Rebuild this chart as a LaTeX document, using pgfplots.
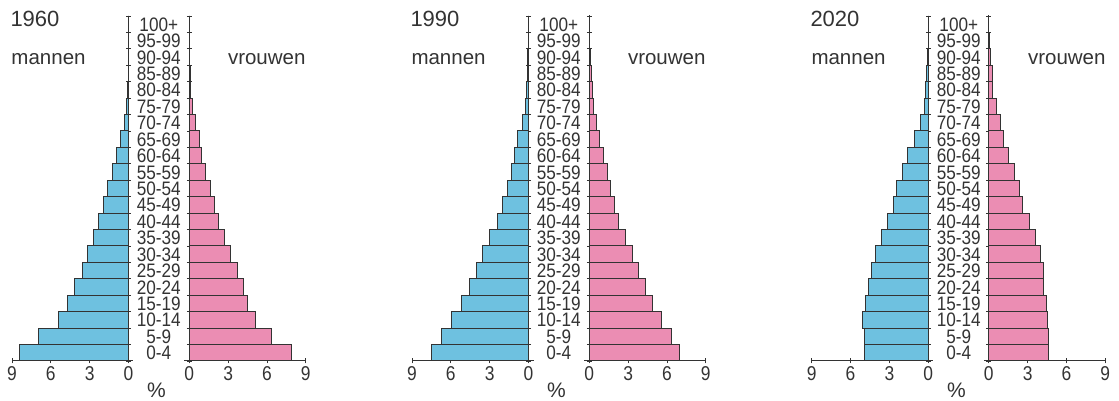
\documentclass[border=0pt]{standalone}
\usepackage{pgfplots}
\pgfplotsset{compat=1.18}
\usepackage{pgfplotstable}
\usepackage{fontspec}
\setmainfont{Liberation Sans}

\definecolor{manblue}{HTML}{6EC1E0}
\definecolor{vrouwpink}{HTML}{EB8DB3}
\definecolor{edge}{HTML}{333333}

% i = age group index (0 = 0-4, ..., 20 = 100+), m = mannen %, f = vrouwen %
\pgfplotstableread{
i m f
0 8.41 7.89
1 6.94 6.32
2 5.37 5.09
3 4.68 4.47
4 4.14 4.22
5 3.57 3.73
6 3.19 3.19
7 2.67 2.70
8 2.29 2.24
9 1.93 1.93
10 1.65 1.65
11 1.26 1.23
12 0.95 0.98
13 0.59 0.75
14 0.33 0.49
15 0.13 0.26
16 0.05 0.08
17 0.02 0.12
18 0.01 0.04
19 0.00 0.01
20 0.00 0.00
}\tabA

\pgfplotstableread{
i m f
0 7.46 6.99
1 6.76 6.32
2 5.96 5.60
3 5.19 4.86
4 4.58 4.37
5 4.04 3.80
6 3.52 3.32
7 3.03 2.78
8 2.39 2.26
9 2.00 1.93
10 1.62 1.67
11 1.34 1.39
12 1.10 1.08
13 0.82 0.82
14 0.49 0.54
15 0.23 0.33
16 0.13 0.23
17 0.10 0.18
18 0.05 0.08
19 0.01 0.02
20 0.00 0.01
}\tabB

\pgfplotstableread{
i m f
0 4.96 4.63
1 4.96 4.60
2 5.04 4.57
3 4.86 4.44
4 4.63 4.26
5 4.39 4.26
6 4.06 4.00
7 3.59 3.62
8 3.13 3.13
9 2.69 2.58
10 2.43 2.40
11 1.96 1.99
12 1.58 1.50
13 1.03 1.14
14 0.57 0.88
15 0.28 0.57
16 0.23 0.28
17 0.16 0.28
18 0.05 0.16
19 0.01 0.05
20 0.00 0.01
}\tabC

\pgfplotsset{
  pyr/.style={
    scale only axis, width=116.5pt, height=345pt,
    ymin=-0.5, ymax=20.5,
    ytick={-0.5,0.5,...,20.5}, yticklabels={,,},
    xbar, bar width=1, bar shift=0pt,
    tick align=outside, major tick length=5pt,
    tick style={edge, line width=0.9pt},
    axis line style={edge, line width=1pt},
    xticklabel style={font=\fontsize{20}{20}\selectfont, xscale=0.87, text=edge},
    /pgf/number format/assume math mode=true,
    clip=false,
  },
  mannen/.style={pyr, axis x line=bottom, axis y line=right,
    xmin=-9, xmax=0, xtick={-9,-6,-3,0}, xticklabels={9,6,3,0},
    x axis line style={-, shorten >=-5pt}, y axis line style={-}},
  vrouwen/.style={pyr, axis x line=bottom, axis y line=left,
    xmin=0, xmax=9, xtick={0,3,6,9}, xticklabels={0,3,6,9},
    x axis line style={-, shorten <=-5pt}, y axis line style={-}},
  mbar/.style={fill=manblue, draw=edge, line width=1pt},
  vbar/.style={fill=vrouwpink, draw=edge, line width=1pt},
}

\begin{document}
\begin{tikzpicture}[x=1pt,y=1pt]
% ---- 1960
\begin{axis}[mannen, at={(12pt,40pt)}, anchor=south west]
\addplot[mbar] table[x expr=-\thisrow{m}, y=i] {\tabA};
\end{axis}
\begin{axis}[vrouwen, at={(189.3pt,40pt)}, anchor=south west]
\addplot[vbar] table[x=f, y=i] {\tabA};
\end{axis}
% ---- 1990
\begin{axis}[mannen, at={(412pt,40pt)}, anchor=south west]
\addplot[mbar] table[x expr=-\thisrow{m}, y=i] {\tabB};
\end{axis}
\begin{axis}[vrouwen, at={(589.3pt,40pt)}, anchor=south west]
\addplot[vbar] table[x=f, y=i] {\tabB};
\end{axis}
% ---- 2020
\begin{axis}[mannen, at={(811.7pt,40pt)}, anchor=south west]
\addplot[mbar] table[x expr=-\thisrow{m}, y=i] {\tabC};
\end{axis}
\begin{axis}[vrouwen, at={(988.8pt,40pt)}, anchor=south west]
\addplot[vbar] table[x=f, y=i] {\tabC};
\end{axis}

% ---- texts
\foreach \yr [count=\p from 0] in {1960,1990,2020} {
  \node[anchor=base west, inner sep=0, text=edge, font=\fontsize{22}{22}\selectfont] at (10.3+400*\p, 374.3) {\yr};
  \node[anchor=base west, inner sep=0, text=edge, font=\fontsize{20.5}{20.5}\selectfont] at (11.3+400*\p, 336) {mannen};
  \node[anchor=base east, inner sep=0, text=edge, font=\fontsize{20.5}{20.5}\selectfont] at (305.7+400*\p, 336) {vrouwen};
  \node[anchor=base, inner sep=0, text=edge, font=\fontsize{21}{21}\selectfont] at (156.5+400*\p, 3.5) {\%};
  \foreach \lab [count=\k from 0] in {0-4,5-9,10-14,15-19,20-24,25-29,30-34,35-39,40-44,45-49,50-54,55-59,60-64,65-69,70-74,75-79,80-84,85-89,90-94,95-99,100+} {
    \node[inner sep=0, text height=14pt, text depth=0pt, text=edge, font=\fontsize{19.5}{19.5}\selectfont, xscale=0.88] at (158.8+400*\p, 40+\k*16.4286+8.2143) {\lab};
  }
}
\path[use as bounding box] (0,0) rectangle (1119,401);
\end{tikzpicture}
\end{document}
